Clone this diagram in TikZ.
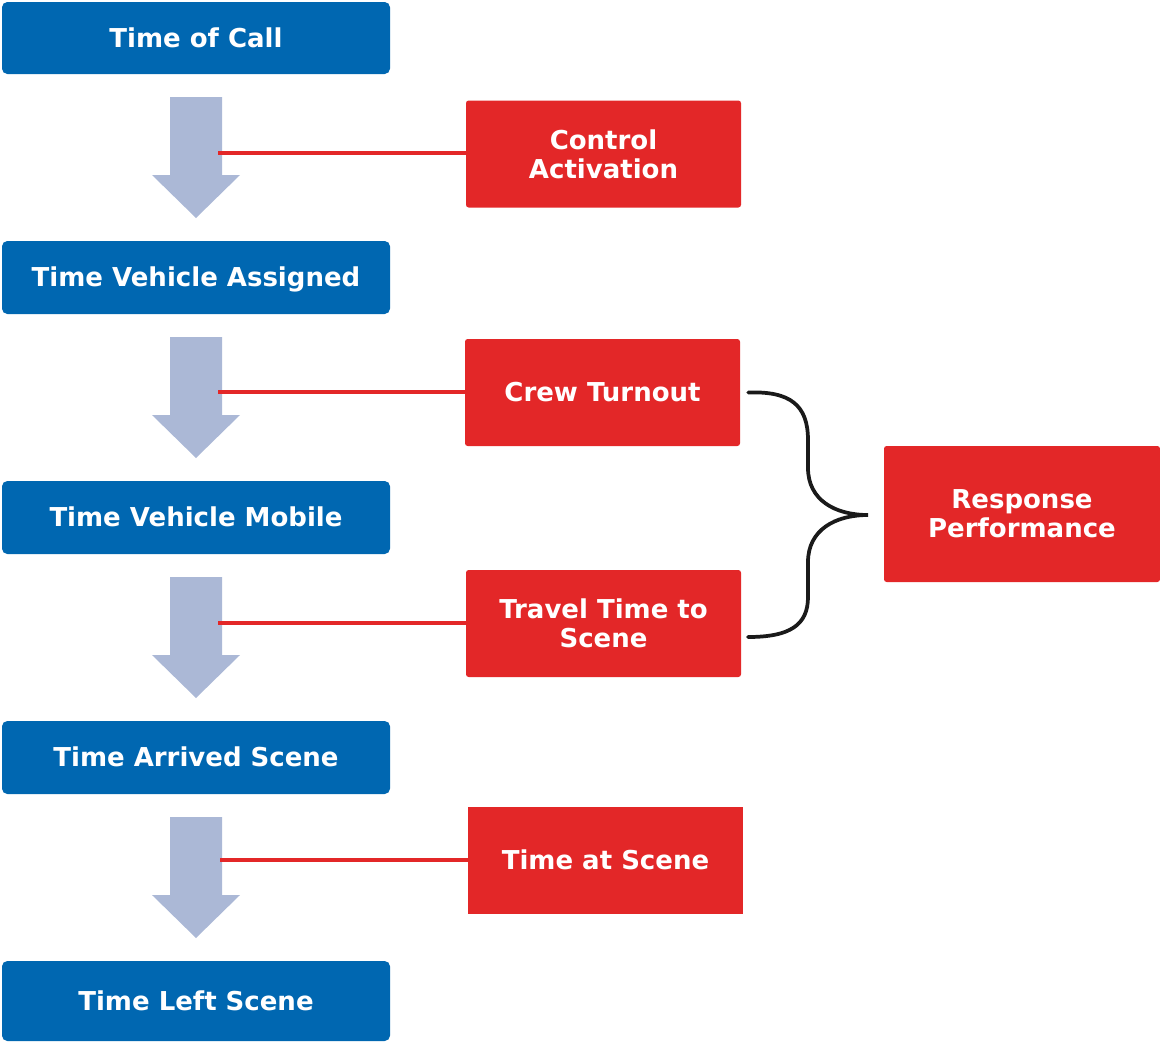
\documentclass[tikz,border=0pt]{standalone}
\usepackage{fontspec}
\setmainfont{DejaVu Sans}
\definecolor{cblue}{HTML}{0067B1}
\definecolor{cred}{HTML}{E32728}
\definecolor{carrow}{HTML}{ABB8D6}
\definecolor{cbrace}{HTML}{1A1A1A}
\begin{document}
\begin{tikzpicture}[x=0.75pt,y=-0.75pt,
  every node/.style={inner sep=0pt, font=\bfseries\fontsize{19.5pt}{21.75pt}\selectfont, text=white, align=center},
  oneline/.style={text height=14.2pt, text depth=0pt},
  bluebox/.style={fill=cblue, rounded corners=4pt, minimum width=291pt, oneline},
  redbox/.style={fill=cred, rounded corners=2pt, minimum width=206.25pt, minimum height=80.25pt},
  flowarrow/.style={fill=carrow},
  link/.style={draw=cred, line width=2.5pt},
  bracestyle/.style={draw=cbrace, line width=2.8pt, line cap=round}]
\useasboundingbox (0,0) rectangle (1160,1043);
% blue boxes
\node[bluebox, minimum height=54pt] (b1) at (196,38) {Time of Call};
\node[bluebox, minimum height=54.75pt] (b2) at (196,277.5) {Time Vehicle Assigned};
\node[bluebox, minimum height=54.75pt] (b3) at (196,517.5) {Time Vehicle Mobile};
\node[bluebox, minimum height=54.75pt] (b4) at (196,757.5) {Time Arrived Scene};
\node[bluebox, minimum height=60pt] (b5) at (196,1001) {Time Left Scene};
% arrows
\foreach \y in {97,337,577,817}{
  \fill[flowarrow] (170,\y) -- (222,\y) -- (222,\y+78) -- (240,\y+78) -- (196,\y+121) -- (152,\y+78) -- (170,\y+78) -- cycle;
}
% red boxes
\node[redbox] (ca) at (603.5,154) {Control\\Activation};
\node[redbox, oneline] (ct) at (602.5,392.5) {Crew Turnout};
\node[redbox] (tt) at (603.5,623.5) {Travel Time to\\Scene};
\node[redbox, oneline, rounded corners=0pt] (ts) at (605.5,860.5) {Time at Scene};
\node[redbox, minimum width=207pt, minimum height=102pt] (rp) at (1022,514) {Response\\Performance};
% connector start points on arrow shafts
\coordinate (s1) at (218,153);
\coordinate (s2) at (218,392);
\coordinate (s3) at (218,623);
\coordinate (s4) at (220,860);
\draw[link] (s1) -- (s1 -| ca.west);
\draw[link] (s2) -- (s2 -| ct.west);
\draw[link] (s3) -- (s3 -| tt.west);
\draw[link] (s4) -- (s4 -| ts.west);
% brace
\coordinate (bt) at ([xshift=6pt]ct.east);
\coordinate (bb) at (748,637);
\coordinate (tip) at (868,515);
\draw[bracestyle] (bt) .. controls (790,391) and (808,405) .. (808,440) -- (808,468)
  .. controls (808,500) and (835,515) .. (tip)
  .. controls (835,515) and (808,530) .. (808,562) -- (808,597)
  .. controls (808,625) and (790,637) .. (bb);
\end{tikzpicture}
\end{document}
